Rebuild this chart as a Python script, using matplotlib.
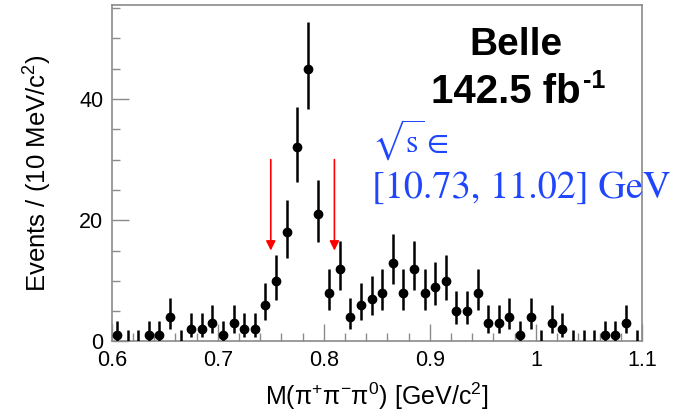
import numpy as np
import matplotlib
matplotlib.use("Agg")
import matplotlib.pyplot as plt
from matplotlib.ticker import MultipleLocator

plt.rcParams["font.family"] = ["Liberation Sans", "DejaVu Sans"]
plt.rcParams["mathtext.fontset"] = "custom"
plt.rcParams["mathtext.rm"] = "Liberation Sans"
plt.rcParams["mathtext.it"] = "Liberation Sans:italic"
plt.rcParams["mathtext.bf"] = "Liberation Sans:bold"

# 10 MeV bins of M(pi+ pi- pi0), bin centres in GeV
bin_centers = np.round(np.arange(0.605, 1.1, 0.01), 3)
counts = np.array([
    1, 0, 0, 1, 1, 4, 0, 2, 2, 3,
    1, 3, 2, 2, 6, 10, 18, 32, 45, 21,
    8, 12, 4, 6, 7, 8, 13, 8, 12, 8,
    9, 10, 5, 5, 8, 3, 3, 4, 1, 4,
    0, 3, 2, 0, 0, 0, 1, 1, 3, 0,
])
# signal window edges
window = [0.75, 0.81]
arrow_top, arrow_tip = 30, 15

# asymmetric Poisson errors (Gehrels approximation)
err_up = np.sqrt(counts + 0.75) + 1.0
err_lo = np.where(counts > 0, np.sqrt(np.clip(counts - 0.25, 0, None)), 0.0)

fig = plt.figure(figsize=(6.75, 4.19), dpi=100)
ax = fig.add_axes([0.1655, 0.185, 0.7855, 0.803])

ax.errorbar(bin_centers, counts, yerr=[err_lo, err_up], fmt="none",
            ecolor="black", elinewidth=1.8, capsize=0, zorder=3)
nz = counts > 0
ax.plot(bin_centers[nz], counts[nz], "o", color="black", ms=6, zorder=4)

for xw in window:
    ax.annotate("", xy=(xw, arrow_tip), xytext=(xw, arrow_top),
                arrowprops=dict(arrowstyle="-|>", color="red", lw=1.2,
                                mutation_scale=14, shrinkA=0, shrinkB=0))

ax.set_xlim(0.6, 1.1)
ax.set_ylim(0, 55.5)
ax.xaxis.set_minor_locator(MultipleLocator(0.02))
ax.yaxis.set_major_locator(MultipleLocator(20))
ax.yaxis.set_minor_locator(MultipleLocator(5))
ax.set_xticks([0.6, 0.7, 0.8, 0.9, 1.0, 1.1])
ax.set_xticklabels(["0.6", "0.7", "0.8", "0.9", "1", "1.1"])

for side in ax.spines.values():
    side.set_color("#8a8a8a")
    side.set_linewidth(1.2)
ax.tick_params(which="both", direction="in", color="#8a8a8a", width=1.0,
               labelsize=15.5, top=False, right=False)
ax.tick_params(which="major", length=12, pad=6)
ax.tick_params(which="minor", length=6)

ax.set_xlabel(r"M($\mathrm{\pi^{+}\pi^{-}\pi^{0}}$) [GeV/c$^{2}$]", fontsize=18, labelpad=7)
ax.set_ylabel(r"Events / (10 MeV/c$^{2}$)", fontsize=18.5, labelpad=18)

ax.text(0.762, 0.851, "Belle", transform=ax.transAxes, ha="center",
        va="baseline", fontsize=28, fontweight="bold")
lumi = ax.text(0.602, 0.709, "142.5 fb", transform=ax.transAxes, ha="left",
               va="baseline", fontsize=29, fontweight="bold")

# superscript drawn as its own text so the "-" stays a short hyphen
fig.canvas.draw()
bb = lumi.get_window_extent()
y_base = ax.transAxes.transform((0, 0.709))[1]
sx, sy = ax.transAxes.inverted().transform((bb.x1 + 2, y_base + 15))
ax.text(sx, sy, "-1", transform=ax.transAxes, ha="left", va="baseline",
        fontsize=18, fontweight="bold")

blue = "#1f45ff"
ax.text(0.491, 0.562, r"$\sqrt{\mathrm{s}}\in$", transform=ax.transAxes, ha="left",
        va="baseline", fontsize=23, color=blue, math_fontfamily="stix")
ax.text(0.491, 0.426, "[10.73, 11.02] GeV", transform=ax.transAxes, ha="left",
        va="baseline", fontsize=27.5, color=blue, family="STIXGeneral")

fig.savefig("out.png", dpi=100)
